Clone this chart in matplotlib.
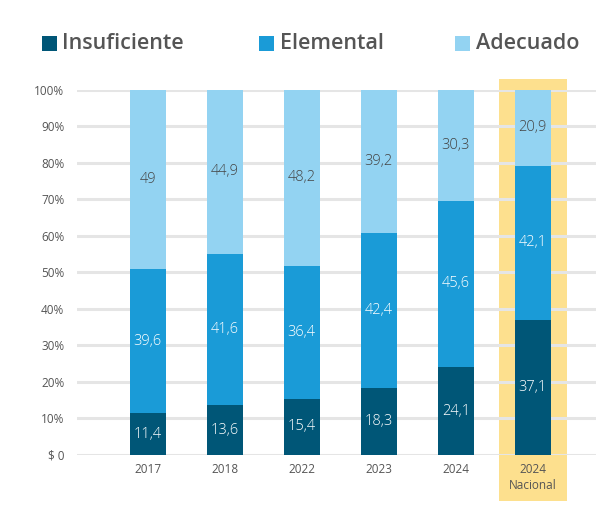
import numpy as np
import matplotlib
matplotlib.use("Agg")
import matplotlib.pyplot as plt
from matplotlib.patches import Rectangle

plt.rcParams["font.family"] = ["Open Sans", "DejaVu Sans"]

categories = ["2017", "2018", "2022", "2023", "2024", "2024\nNacional"]
insuficiente = [11.4, 13.6, 15.4, 18.3, 24.1, 37.1]
elemental = [39.6, 41.6, 36.4, 42.4, 45.6, 42.1]
adecuado = [49, 44.9, 48.2, 39.2, 30.3, 20.9]
series_names = ["Insuficiente", "Elemental", "Adecuado"]
yticks = [0, 10, 20, 30, 40, 50, 60, 70, 80, 90, 100]
ytick_labels = ["$ 0"] + [f"{v}%" for v in yticks[1:]]

COL = ["#005677", "#1a9bd7", "#93d3f2"]
TXT = ["white", "white", "#444444"]
GREY = "#555555"

fig = plt.figure(figsize=(6.15, 5.11), dpi=100)
ax = fig.add_axes([0.125, 0.1096, 0.844, 0.7143])

x = np.arange(len(categories))
width = 0.47

# highlight behind the national bar
hl = Rectangle((x[-1] - 0.44, -12.6), 0.88, 115.6, facecolor="#fde08e",
               edgecolor="none", clip_on=False, zorder=0)
ax.add_patch(hl)

for v in yticks:
    ax.axhline(v, color="#e5e5e5", linewidth=2.2, zorder=1)

bottom = np.zeros(len(categories))
for vals, col, tc in zip([insuficiente, elemental, adecuado], COL, TXT):
    bars = ax.bar(x, vals, width, bottom=bottom, color=col, zorder=2)
    ax.bar_label(bars, labels=[f"{v:g}".replace(".", ",") for v in vals],
                 label_type="center", color=tc, fontsize=10.5,
                 fontweight="light", zorder=3)
    bottom += np.array(vals)

ax.set_xlim(-0.92, 5.82)
ax.set_ylim(0, 100)
ax.set_yticks(yticks)
ax.set_yticklabels(ytick_labels, fontsize=8.5, color=GREY)
ax.set_xticks(x)
ax.set_xticklabels(categories, fontsize=8.5, color=GREY, linespacing=1.3)
ax.tick_params(length=0, pad=9)
ax.tick_params(axis="x", pad=6)
for s in ax.spines.values():
    s.set_visible(False)

# legend across the top
leg_x = [41.5, 259, 455]
for lx, name, col in zip(leg_x, series_names, COL):
    fig.patches.append(Rectangle((lx / 615, 1 - 51 / 511), 15 / 615, 15 / 511,
                                 facecolor=col, transform=fig.transFigure))
    fig.text((lx + 21) / 615, 1 - 43.5 / 511, name, fontsize=15.5, color=GREY,
             va="center", ha="left", fontweight="semibold")

fig.savefig("out.png", dpi=100)
